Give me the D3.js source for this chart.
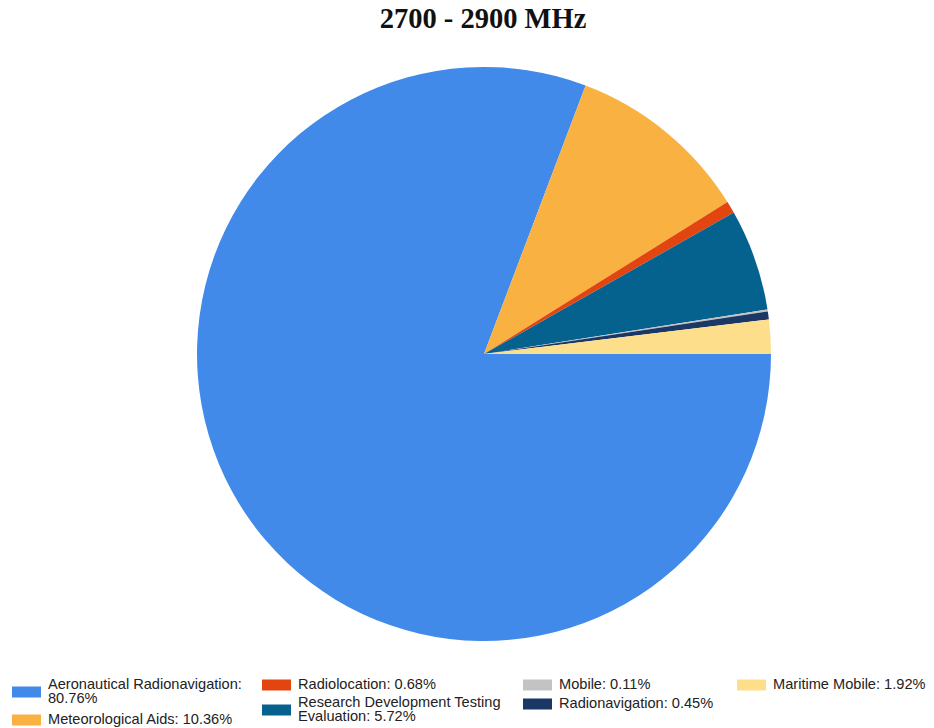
<!DOCTYPE html>
<html>
<head>
<meta charset="utf-8">
<script src="https://cdn.jsdelivr.net/npm/d3@7"></script>
<style>
  body { margin: 0; background: #fff; }
  svg { display: block; }
</style>
</head>
<body>
<div id="chart"></div>
<script>
// data, in the order the slices run (clockwise from 3 o'clock)
var services = ["Aeronautical Radionavigation", "Meteorological Aids", "Radiolocation",
  "Research Development Testing Evaluation", "Mobile", "Radionavigation", "Maritime Mobile"];
var shares = [80.76, 10.36, 0.68, 5.72, 0.11, 0.45, 1.92];
var colors = ["#418ae9", "#f9b241", "#e2450f", "#05628f", "#c3c3c3", "#1b3765", "#fddf8b"];
var title = "2700 - 2900 MHz";

var width = 934, height = 728;
var cx = 484, cy = 354, radius = 287;

var svg = d3.select("#chart").append("svg").attr("width", width).attr("height", height);

svg.append("text")
  .attr("x", 483).attr("y", 28)
  .attr("text-anchor", "middle")
  .style("font-family", "'Liberation Serif', 'Times New Roman', serif")
  .style("font-weight", "bold")
  .style("font-size", "28.5px")
  .style("fill", "#111")
  .text(title);

var rows = services.map(function(s, i) { return {name: s, value: shares[i], color: colors[i]}; });

var pie = d3.pie().sort(null).value(function(d) { return d.value; })
  .startAngle(Math.PI / 2).endAngle(Math.PI / 2 + 2 * Math.PI);
var arc = d3.arc().innerRadius(0).outerRadius(radius);

svg.append("g").attr("transform", "translate(" + cx + "," + cy + ")")
  .selectAll("path").data(pie(rows)).enter().append("path")
  .attr("d", arc)
  .attr("fill", function(d) { return d.data.color; });

// legend: two entries per column, column-major
var colX = [12, 262, 523, 737];
var itemTop = [678, 713, 678, 696, 678, 697, 678];
var lineH = 14;

var legend = svg.append("g").style("font-family", "'Liberation Sans', Arial, sans-serif")
  .style("font-size", "14.6px");

rows.forEach(function(d, i) {
  var col = Math.floor(i / 2);
  var x = colX[col];
  var maxW = (col < 3 ? colX[col + 1] : width + 60) - (x + 36) - 6;
  var t = legend.append("text").attr("x", x + 36).style("fill", "#222");
  // word wrap
  var words = (d.name + ": " + d.value.toFixed(2) + "%").split(" ");
  var lines = [], cur = "";
  var probe = t.append("tspan");
  words.forEach(function(w) {
    var test = cur ? cur + " " + w : w;
    probe.text(test);
    if (probe.node().getComputedTextLength() > maxW && cur) {
      lines.push(cur);
      cur = w;
    } else {
      cur = test;
    }
  });
  lines.push(cur);
  probe.remove();
  var top = itemTop[i];
  lines.forEach(function(l, k) {
    t.append("tspan").attr("x", x + 36).attr("y", top + 11 + k * lineH).text(l);
  });
  var mid = top + (lines.length * lineH) / 2;
  legend.append("rect")
    .attr("x", x).attr("y", mid - 5.5)
    .attr("width", 29).attr("height", 11)
    .attr("fill", d.color);
});
</script>
</body>
</html>
